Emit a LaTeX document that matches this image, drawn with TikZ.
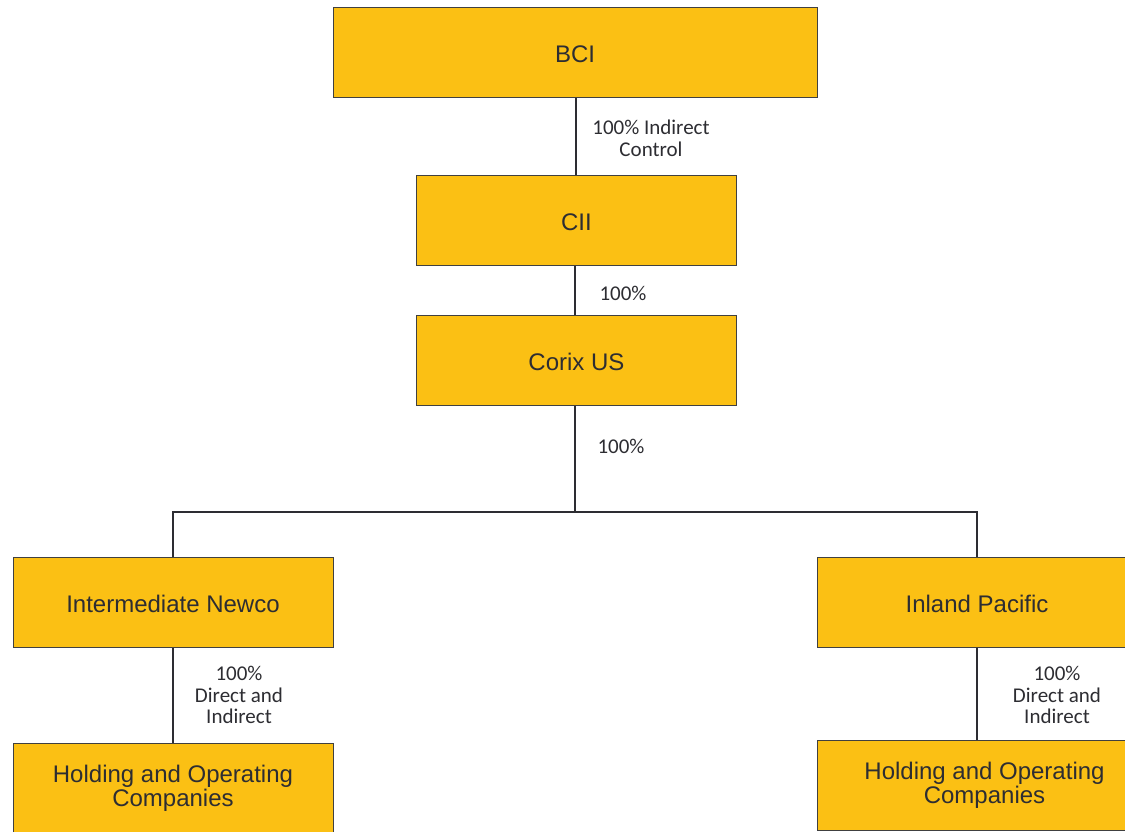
\documentclass[tikz,border=0pt]{standalone}
\usepackage{fontspec}
\setmainfont{Liberation Sans}
\newfontfamily\labelfont{Carlito}
\usetikzlibrary{calc}
\definecolor{boxfill}{RGB}{251,192,20}
\definecolor{boxline}{RGB}{64,64,64}
\definecolor{inktext}{RGB}{45,45,50}
\tikzset{
	entity/.style={draw=boxline, line width=0.5pt, fill=boxfill, text=inktext, minimum width=160pt, minimum height=45pt, inner sep=0pt, align=center, font=\fontsize{12}{12}\selectfont, execute at begin node={\rule{0pt}{10.7pt}}},
	twoline/.style={execute at begin node={\rule{0pt}{12.7pt}}},
	link/.style={draw=inktext, line width=1pt},
	share/.style={text=inktext, align=center, inner sep=0pt, font=\labelfont\fontsize{10.5}{10.8}\selectfont}
}
\begin{document}
\begin{tikzpicture}[x=0.5pt, y=-0.5pt]
		%%%%% START %%%%%
		\useasboundingbox[fill=white] (0, 0) rectangle (1125, 831);
		
		\node[entity, minimum width=242pt] (bci) at (575, 52) {BCI};
		\node[entity] (cii) at (576.5, 220) {CII};
		\node[entity] (corix) at (576.5, 360) {Corix US};
		
		\node[entity] (newco) at (173, 602) {Intermediate Newco};
		\node[entity] (inland) at (977, 602) {Inland Pacific};
		
		\node[entity, twoline] (holdleft) at (173, 788) {Holding and Operating\\Companies};
		\node[entity, twoline, minimum width=167.5pt] (holdright) at (984.5, 785) {Holding and Operating\\Companies};
		
		\coordinate (split) at (575, 512);
		
		\draw[link] (bci.south -| 576, 0) -- (cii.north -| 576, 0);
		\draw[link] (cii.south -| 575, 0) -- (corix.north -| 575, 0);
		\draw[link] (corix.south -| split) -- (split);
		\draw[link] (newco.north) |- (split) -| (inland.north);
		
		\draw[link] (newco) -- (holdleft);
		\draw[link] (inland) -- (inland |- holdright.north);
		
		\node[share] (lblcii) at (651, 138) {100\% Indirect\\Control};
		\node[share] (lblcorix) at (623, 293) {100\%};
		\node[share] (lblsplit) at (621, 446) {100\%};
		\node[share] (lblleft) at (239, 695) {100\%\\Direct and\\Indirect};
		\node[share] (lblright) at (1057, 695) {100\%\\Direct and\\Indirect};
		
		%%%%% END %%%%%
	\end{tikzpicture}
\end{document}
